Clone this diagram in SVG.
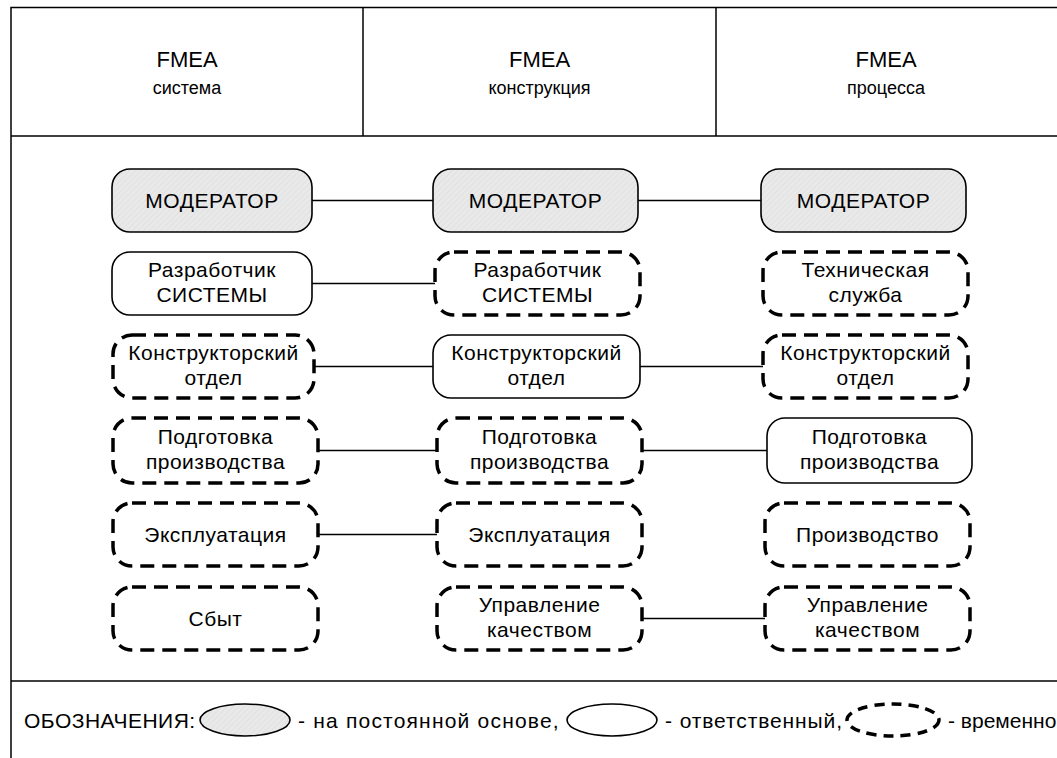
<svg xmlns="http://www.w3.org/2000/svg" width="1057" height="758" viewBox="0 0 1057 758">
<defs>
<pattern id="hatch" width="4" height="4" patternUnits="userSpaceOnUse" patternTransform="rotate(45)">
<rect width="4" height="4" fill="#e9e9e9"/>
<line x1="0" y1="0" x2="0" y2="4" stroke="#dddddd" stroke-width="1.2"/>
</pattern>
</defs>
<style>
.frame{fill:none;stroke:#000;stroke-width:1.5}
.perm{fill:url(#hatch);stroke:#000;stroke-width:1.6}
.resp{fill:#fff;stroke:#000;stroke-width:1.6}
.temp{fill:#fff;stroke:#000;stroke-width:3.5;stroke-dasharray:14 8}
.tempe{fill:#fff;stroke:#000;stroke-width:3.5;stroke-dasharray:10 7}
text{font-family:"Liberation Sans",Arial,sans-serif;fill:#000}
.lbl{font-size:21px;letter-spacing:0.5px;text-anchor:middle}
.h1{font-size:22px;text-anchor:middle}
.h2{font-size:18px;text-anchor:middle}
.leg{font-size:21px}
.conn line{stroke:#000;stroke-width:1.5}
</style>
<rect width="1057" height="758" fill="#fff"/>
<g id="frame">
<rect class="frame" x="11" y="7.5" width="1060" height="780"/>
<line class="frame" x1="11" y1="136" x2="1060" y2="136"/>
<line class="frame" x1="363" y1="7.5" x2="363" y2="136"/>
<line class="frame" x1="716" y1="7.5" x2="716" y2="136"/>
<line class="frame" x1="11" y1="681" x2="1060" y2="681"/>
</g>
<g id="header">
<text class="h1" x="187" y="67">FMEA</text>
<text class="h2" x="187" y="94">система</text>
<text class="h1" x="539.5" y="67">FMEA</text>
<text class="h2" x="539.5" y="94">конструкция</text>
<text class="h1" x="886" y="67">FMEA</text>
<text class="h2" x="886" y="94">процесса</text>
</g>
<g id="connectors" class="conn">
<line x1="312" y1="200.5" x2="433" y2="200.5"/>
<line x1="638" y1="200.5" x2="761" y2="200.5"/>
<line x1="312" y1="283.5" x2="435" y2="283.5"/>
<line x1="314" y1="366.5" x2="433" y2="366.5"/>
<line x1="640" y1="366.5" x2="763" y2="366.5"/>
<line x1="318" y1="450.5" x2="437" y2="450.5"/>
<line x1="642" y1="450.5" x2="767" y2="450.5"/>
<line x1="318" y1="534.5" x2="437" y2="534.5"/>
<line x1="642" y1="618.5" x2="765" y2="618.5"/>
</g>
<g id="n1_1"><rect class="perm" x="112" y="169" width="200" height="63" rx="18"/><text class="lbl" x="212" y="208">МОДЕРАТОР</text></g>
<g id="n1_2"><rect class="resp" x="112" y="252" width="200" height="63" rx="18"/><text class="lbl" x="212" y="277">Разработчик</text><text class="lbl" x="212" y="301.5">СИСТЕМЫ</text></g>
<g id="n1_3"><rect class="temp" x="113" y="335" width="201" height="63" rx="19"/><text class="lbl" x="213.5" y="360">Конструкторский</text><text class="lbl" x="213.5" y="384.5">отдел</text></g>
<g id="n1_4"><rect class="temp" x="113" y="418" width="205" height="65" rx="19"/><text class="lbl" x="215.5" y="444">Подготовка</text><text class="lbl" x="215.5" y="468.5">производства</text></g>
<g id="n1_5"><rect class="temp" x="113" y="503" width="205" height="63" rx="19"/><text class="lbl" x="215.5" y="542">Эксплуатация</text></g>
<g id="n1_6"><rect class="temp" x="113" y="587" width="205" height="63" rx="19"/><text class="lbl" x="215.5" y="626">Сбыт</text></g>
<g id="n2_1"><rect class="perm" x="433" y="169" width="205" height="63" rx="18"/><text class="lbl" x="535.5" y="208">МОДЕРАТОР</text></g>
<g id="n2_2"><rect class="temp" x="435" y="252" width="205" height="63" rx="19"/><text class="lbl" x="537.5" y="277">Разработчик</text><text class="lbl" x="537.5" y="301.5">СИСТЕМЫ</text></g>
<g id="n2_3"><rect class="resp" x="433" y="335" width="207" height="63" rx="18"/><text class="lbl" x="536.5" y="360">Конструкторский</text><text class="lbl" x="536.5" y="384.5">отдел</text></g>
<g id="n2_4"><rect class="temp" x="437" y="418" width="205" height="65" rx="19"/><text class="lbl" x="539.5" y="444">Подготовка</text><text class="lbl" x="539.5" y="468.5">производства</text></g>
<g id="n2_5"><rect class="temp" x="437" y="503" width="205" height="63" rx="19"/><text class="lbl" x="539.5" y="542">Эксплуатация</text></g>
<g id="n2_6"><rect class="temp" x="437" y="587" width="205" height="63" rx="19"/><text class="lbl" x="539.5" y="612">Управление</text><text class="lbl" x="539.5" y="636.5">качеством</text></g>
<g id="n3_1"><rect class="perm" x="761" y="169" width="205" height="63" rx="18"/><text class="lbl" x="863.5" y="208">МОДЕРАТОР</text></g>
<g id="n3_2"><rect class="temp" x="763" y="252" width="205" height="63" rx="19"/><text class="lbl" x="865.5" y="277">Техническая</text><text class="lbl" x="865.5" y="301.5">служба</text></g>
<g id="n3_3"><rect class="temp" x="763" y="335" width="205" height="63" rx="19"/><text class="lbl" x="865.5" y="360">Конструкторский</text><text class="lbl" x="865.5" y="384.5">отдел</text></g>
<g id="n3_4"><rect class="resp" x="767" y="418" width="205" height="65" rx="18"/><text class="lbl" x="869.5" y="444">Подготовка</text><text class="lbl" x="869.5" y="468.5">производства</text></g>
<g id="n3_5"><rect class="temp" x="765" y="503" width="205" height="63" rx="19"/><text class="lbl" x="867.5" y="542">Производство</text></g>
<g id="n3_6"><rect class="temp" x="765" y="587" width="205" height="63" rx="19"/><text class="lbl" x="867.5" y="612">Управление</text><text class="lbl" x="867.5" y="636.5">качеством</text></g>
<g id="legend">
<text class="leg" x="24" y="728" letter-spacing="0.5">ОБОЗНАЧЕНИЯ:</text>
<ellipse class="perm" cx="245" cy="720" rx="45" ry="16"/>
<text class="leg" x="298" y="728" letter-spacing="1.2">- на постоянной основе,</text>
<ellipse class="resp" cx="612" cy="720" rx="45" ry="16"/>
<text class="leg" x="665" y="728" letter-spacing="0.9">- ответственный,</text>
<ellipse class="tempe" cx="893" cy="720" rx="46" ry="16"/>
<text class="leg" x="948" y="728">- временно</text>
</g>
</svg>
